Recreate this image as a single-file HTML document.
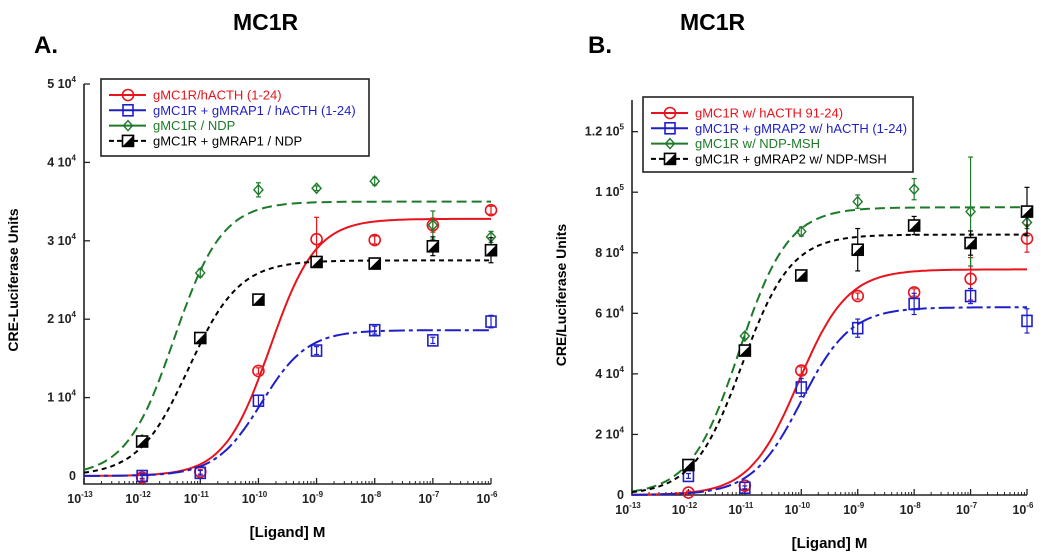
<!DOCTYPE html>
<html><head><meta charset="utf-8"><style>
html,body{margin:0;padding:0;background:#fff;}
svg{display:block;font-family:"Liberation Sans",Arial,sans-serif;}
</style></head><body>
<svg id="fig" width="1050" height="560" viewBox="0 0 1050 560">
<text x="233" y="30" font-size="23" font-weight="bold">MC1R</text>
<text x="34" y="53" font-size="24" font-weight="bold">A.</text>
<text x="680" y="30" font-size="23" font-weight="bold">MC1R</text>
<text x="588" y="53" font-size="24" font-weight="bold">B.</text>
</svg>
<script>
// x categories: log10 concentration
const logDoses = [-12, -11, -10, -9, -8, -7, -6];
const xTickExps = [-13, -12, -11, -10, -9, -8, -7, -6];
// Panel A values
const aRed = [-200, 550, 13400, 30200, 30100, 32000, 33900];
const aRedErr = [300, 300, 400, 2800, 500, 900, 500];
const aBlue = [0, 400, 9600, 16000, 18600, 17300, 19700];
const aBlueErr = [300, 300, 700, 500, 500, 400, 800];
const aGreen = [4600, 25900, 36500, 36700, 37600, 32000, 30500];
const aGreenErr = [300, 500, 900, 300, 500, 1800, 700];
const aBlack = [4400, 17600, 22500, 27300, 27100, 29300, 28800];
const aBlackErr = [300, 300, 300, 400, 700, 1200, 1600];
// fit params [top, logEC50, hill, bottom]
const aRedFit = [32800, -9.8, 1.1, 0];
const aBlueFit = [18600, -9.95, 1.1, 0];
const aGreenFit = [35000, -11.45, 1.05, 0];
const aBlackFit = [27500, -11.2, 1.0, 0];
const aYTicks = [0, 10000, 20000, 30000, 40000, 50000];
const aYTickLabels = ["0", "1 10^4", "2 10^4", "3 10^4", "4 10^4", "5 10^4"];
// Panel B values
const bRed = [800, 3100, 41100, 65700, 66900, 71400, 84700];
const bRedErr = [500, 1000, 1200, 1000, 1200, 7000, 4500];
const bBlue = [6300, 2400, 35500, 55100, 63100, 65700, 57500];
const bBlueErr = [800, 600, 3000, 3000, 3500, 2500, 4000];
const bGreen = [9900, 52500, 87000, 96900, 101000, 93600, 90000];
const bGreenErr = [600, 1000, 1500, 2200, 3500, 18000, 2000];
const bBlack = [9900, 47700, 72500, 81000, 89000, 83200, 93600];
const bBlackErr = [700, 1000, 800, 7000, 3000, 4000, 8000];
const bRedFit = [74500, -10.05, 1.0, 0];
const bBlueFit = [62000, -10.0, 1.0, 0];
const bGreenFit = [95000, -11.1, 1.0, 0];
const bBlackFit = [86000, -11.05, 1.0, 0];
const bYTicks = [0, 20000, 40000, 60000, 80000, 100000, 120000];
const bYTickLabels = ["0", "2 10^4", "4 10^4", "6 10^4", "8 10^4", "1 10^5", "1.2 10^5"];
const aLegend = ["gMC1R/hACTH (1-24)", "gMC1R + gMRAP1 / hACTH (1-24)", "gMC1R / NDP", "gMC1R + gMRAP1  / NDP"];
const bLegend = ["gMC1R w/ hACTH 91-24)", "gMC1R + gMRAP2 w/ hACTH (1-24)", "gMC1R w/ NDP-MSH", "gMC1R + gMRAP2 w/ NDP-MSH"];

const NS = "http://www.w3.org/2000/svg";
const svg = document.getElementById('fig');
function mk(tag, attrs, parent) {
  const e = document.createElementNS(NS, tag);
  for (const k in attrs) e.setAttribute(k, attrs[k]);
  (parent || svg).appendChild(e);
  return e;
}
const colors = ["#e8141c", "#1f1fc8", "#1e7a2a", "#000000"];
const dashes = ["", "16 4 4 4", "10 5", "5 4"];

function drawPanel(cfg) {
  const g = mk('g', {});
  
  
  const xs = v => cfg.x0 + (v - (-13)) * (cfg.x1 - cfg.x0) / 7;
  const ys = v => cfg.y0 - v * cfg.pxPer;
  const ax = mk('path', {d: `M${cfg.x0},${cfg.yTop} L${cfg.x0},${cfg.axisY} L${cfg.x1},${cfg.axisY}`, stroke: '#222', 'stroke-width': 1.6, fill: 'none'}, g);
  
  
  xTickExps.forEach(e => {
    const x = xs(e);
    mk('line', {x1: x, x2: x, y1: cfg.axisY, y2: cfg.axisY - 6, stroke: '#222', 'stroke-width': 1.3}, g);
    const t = mk('text', {x: x - 4, y: cfg.axisY + 19, 'font-size': 12.5, 'text-anchor': 'middle', fill: '#222', 'font-weight': 'bold'}, g);
    
    
    t.textContent = '10';
    const s = mk('tspan', {'font-size': 8, dy: -6}, t);
    s.textContent = String(e);
    if (e < -6) for (let m = 2; m <= 9; m++) {
      const xm = xs(e + Math.log10(m));
      mk('line', {x1: xm, x2: xm, y1: cfg.axisY, y2: cfg.axisY - 3, stroke: '#222', 'stroke-width': 1}, g);
    }
  });
  cfg.yTicks.forEach((v, i) => {
    const y = ys(v);
    mk('line', {x1: cfg.x0, x2: cfg.x0 + 6, y1: y, y2: y, stroke: '#222', 'stroke-width': 1.3}, g);
    const parts = cfg.yLabels[i].split('^');
    const t = mk('text', {x: cfg.x0 - 8, y: y + 4, 'font-size': 12.5, 'text-anchor': 'end', fill: '#222', 'font-weight': 'bold'}, g);
    
    
    t.textContent = parts[0];
    if (parts[1]) { const s = mk('tspan', {'font-size': 8, dy: -6}, t); s.textContent = parts[1]; }
  });
  const xt = mk('text', {x: (cfg.x0 + cfg.x1) / 2, y: cfg.axisY + 53, 'font-size': 15, 'font-weight': 'bold', 'text-anchor': 'middle'}, g);
  
  
  xt.textContent = '[Ligand] M';
  const yt = mk('text', {x: 0, y: 0, 'font-size': 14, 'font-weight': 'bold', 'text-anchor': 'middle', transform: `translate(${cfg.yTitleX},${cfg.yTitleY}) rotate(-90)`}, g);
  
  
  yt.textContent = cfg.yTitle;
  cfg.series.forEach((s, si) => {
    const sg = mk('g', {}, g);
    
    
    const f = s.fit;
    let d = '';
    for (let lx = -13; lx <= -6.0001 + 0.001; lx += 0.05) {
      const v = f[3] + (f[0] - f[3]) / (1 + Math.pow(10, (f[1] - lx) * f[2]));
      d += (d ? 'L' : 'M') + xs(lx).toFixed(1) + ',' + ys(v).toFixed(1);
    }
    const p = mk('path', {d, fill: 'none', stroke: colors[si], 'stroke-width': 2, 'stroke-dasharray': dashes[si]}, sg);
    
    
    s.vals.forEach((v, i) => {
      const x = xs(logDoses[i]), y = ys(v);
      const e = s.err[i] * cfg.pxPer;
      mk('line', {x1: x, x2: x, y1: y - e, y2: y + e, stroke: colors[si], 'stroke-width': 1.2}, sg);
      mk('line', {x1: x - 2.5, x2: x + 2.5, y1: y - e, y2: y - e, stroke: colors[si], 'stroke-width': 1.2}, sg);
      mk('line', {x1: x - 2.5, x2: x + 2.5, y1: y + e, y2: y + e, stroke: colors[si], 'stroke-width': 1.2}, sg);
      const m = marker(si, x, y, sg);
      
      
    });
  });
  const L = cfg.legend;
  const lg = mk('g', {}, g);
  
  
  mk('rect', {x: L.x, y: L.y, width: L.w, height: L.h, fill: '#fff', stroke: '#222', 'stroke-width': 1.6}, lg);
  cfg.legendText.forEach((txt, i) => {
    const y = L.y + 16 + i * 15.3;
    const le = mk('g', {}, lg);
    
    
    mk('line', {x1: L.x + 8, x2: L.x + 45, y1: y, y2: y, stroke: colors[i], 'stroke-width': 2, 'stroke-dasharray': i === 3 ? '5 3' : ''}, le);
    marker(i, L.x + 27, y, le);
    const t = mk('text', {x: L.x + 52, y: y + 4.5, 'font-size': 13, fill: colors[i]}, le);
    t.textContent = txt;
  });
}
function marker(si, x, y, parent) {
  if (si === 0) return mk('circle', {cx: x, cy: y, r: 5.5, fill: 'none', stroke: colors[0], 'stroke-width': 1.6}, parent);
  if (si === 1) return mk('rect', {x: x - 5, y: y - 5.5, width: 10, height: 11, fill: 'none', stroke: colors[1], 'stroke-width': 1.6}, parent);
  if (si === 2) return mk('path', {d: `M${x},${y - 5} L${x + 4.5},${y} L${x},${y + 5} L${x - 4.5},${y} Z`, fill: 'none', stroke: colors[2], 'stroke-width': 1.4}, parent);
  const g = mk('g', {}, parent);
  mk('rect', {x: x - 5.5, y: y - 5.5, width: 11, height: 11, fill: '#fff', stroke: '#000', 'stroke-width': 1.6}, g);
  mk('path', {d: `M${x + 5.5},${y - 5.5} L${x + 5.5},${y + 5.5} L${x - 5.5},${y + 5.5} Z`, fill: '#000'}, g);
  return g;
}

drawPanel({
  name: 'panel-a', x0: 84, x1: 491, y0: 476, axisY: 484, yTop: 84, pxPer: 78.4 / 10000,
  yTicks: aYTicks, yLabels: aYTickLabels, yTitle: 'CRE-Luciferase Units', yTitleX: 18, yTitleY: 280,
  legend: {x: 101, y: 79, w: 268, h: 77}, legendText: aLegend,
  series: [
    {key: 'red', vals: aRed, err: aRedErr, fit: aRedFit},
    {key: 'blue', vals: aBlue, err: aBlueErr, fit: aBlueFit},
    {key: 'green', vals: aGreen, err: aGreenErr, fit: aGreenFit},
    {key: 'black', vals: aBlack, err: aBlackErr, fit: aBlackFit}
  ]
});
drawPanel({
  name: 'panel-b', x0: 632, x1: 1027, y0: 495, axisY: 495, yTop: 100, pxPer: 30.28 / 10000,
  yTicks: bYTicks, yLabels: bYTickLabels, yTitle: 'CRE/Luciferase Units', yTitleX: 566, yTitleY: 295,
  legend: {x: 643, y: 97, w: 270, h: 75}, legendText: bLegend,
  series: [
    {key: 'red', vals: bRed, err: bRedErr, fit: bRedFit},
    {key: 'blue', vals: bBlue, err: bBlueErr, fit: bBlueFit},
    {key: 'green', vals: bGreen, err: bGreenErr, fit: bGreenFit},
    {key: 'black', vals: bBlack, err: bBlackErr, fit: bBlackFit}
  ]
});
</script>
</body></html>
